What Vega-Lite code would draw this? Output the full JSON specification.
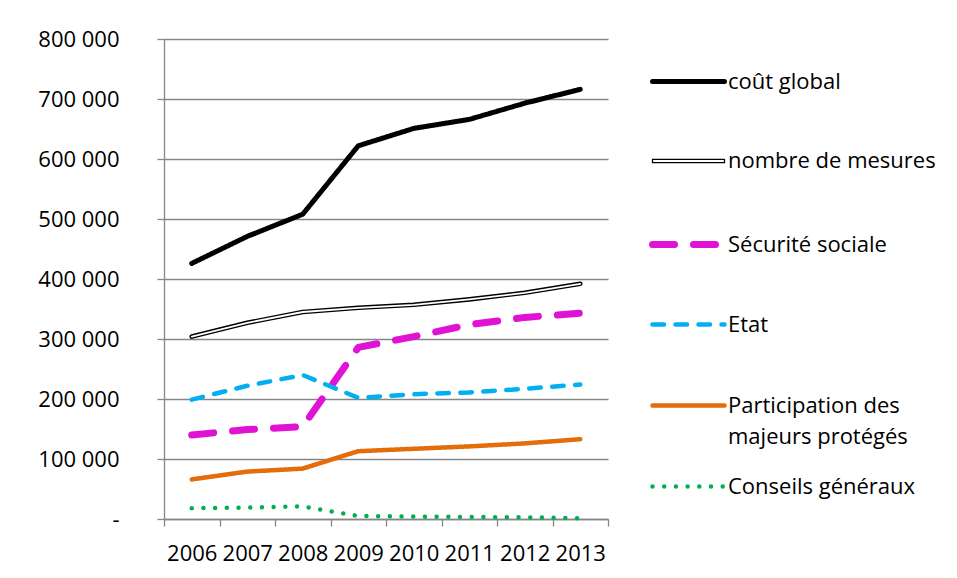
{
  "$schema": "https://vega.github.io/schema/vega-lite/v6.json",
  "width": 444,
  "height": 480,
  "autosize": {"type": "none"},
  "padding": {"left": 164, "top": 39, "right": 349, "bottom": 59},
  "background": "white",
  "config": {"view": {"stroke": null}, "font": "Open Sans"},
  "data": {
    "values": [
      {"year": "2006", "series": "coût global", "value": 426000},
      {"year": "2007", "series": "coût global", "value": 471000},
      {"year": "2008", "series": "coût global", "value": 508000},
      {"year": "2009", "series": "coût global", "value": 622000},
      {"year": "2010", "series": "coût global", "value": 651000},
      {"year": "2011", "series": "coût global", "value": 666000},
      {"year": "2012", "series": "coût global", "value": 693000},
      {"year": "2013", "series": "coût global", "value": 716000},
      {"year": "2006", "series": "nombre de mesures", "value": 304000},
      {"year": "2007", "series": "nombre de mesures", "value": 327000},
      {"year": "2008", "series": "nombre de mesures", "value": 345000},
      {"year": "2009", "series": "nombre de mesures", "value": 352000},
      {"year": "2010", "series": "nombre de mesures", "value": 357000},
      {"year": "2011", "series": "nombre de mesures", "value": 366000},
      {"year": "2012", "series": "nombre de mesures", "value": 377000},
      {"year": "2013", "series": "nombre de mesures", "value": 392000},
      {"year": "2006", "series": "Sécurité sociale", "value": 140000},
      {"year": "2007", "series": "Sécurité sociale", "value": 149000},
      {"year": "2008", "series": "Sécurité sociale", "value": 154000},
      {"year": "2009", "series": "Sécurité sociale", "value": 286000},
      {"year": "2010", "series": "Sécurité sociale", "value": 304000},
      {"year": "2011", "series": "Sécurité sociale", "value": 324000},
      {"year": "2012", "series": "Sécurité sociale", "value": 336000},
      {"year": "2013", "series": "Sécurité sociale", "value": 343000},
      {"year": "2006", "series": "Etat", "value": 199000},
      {"year": "2007", "series": "Etat", "value": 222000},
      {"year": "2008", "series": "Etat", "value": 240000},
      {"year": "2009", "series": "Etat", "value": 202000},
      {"year": "2010", "series": "Etat", "value": 208000},
      {"year": "2011", "series": "Etat", "value": 211000},
      {"year": "2012", "series": "Etat", "value": 217000},
      {"year": "2013", "series": "Etat", "value": 224000},
      {"year": "2006", "series": "Participation des majeurs protégés", "value": 66000},
      {"year": "2007", "series": "Participation des majeurs protégés", "value": 79000},
      {"year": "2008", "series": "Participation des majeurs protégés", "value": 84000},
      {"year": "2009", "series": "Participation des majeurs protégés", "value": 113000},
      {"year": "2010", "series": "Participation des majeurs protégés", "value": 117000},
      {"year": "2011", "series": "Participation des majeurs protégés", "value": 121000},
      {"year": "2012", "series": "Participation des majeurs protégés", "value": 126000},
      {"year": "2013", "series": "Participation des majeurs protégés", "value": 133000},
      {"year": "2006", "series": "Conseils généraux", "value": 18000},
      {"year": "2007", "series": "Conseils généraux", "value": 19000},
      {"year": "2008", "series": "Conseils généraux", "value": 21000},
      {"year": "2009", "series": "Conseils généraux", "value": 5000},
      {"year": "2010", "series": "Conseils généraux", "value": 4000},
      {"year": "2011", "series": "Conseils généraux", "value": 3300},
      {"year": "2012", "series": "Conseils généraux", "value": 2800},
      {"year": "2013", "series": "Conseils généraux", "value": 1200}
    ]
  },
  "encoding": {
    "x": {
      "field": "year",
      "type": "ordinal",
      "bandPosition": 0.5,
      "scale": {"type": "band", "paddingInner": 0, "paddingOuter": 0},
      "axis": {
        "title": null,
        "grid": false,
        "labelAngle": 0,
        "labelOverlap": false,
        "labelFont": "Open Sans",
        "labelFontSize": 22,
        "labelColor": "black",
        "labelPadding": 17,
        "tickBand": "extent",
        "tickSize": 7,
        "tickColor": "#868686",
        "tickWidth": 1.3,
        "domainColor": "#868686",
        "domainWidth": 1.3
      }
    },
    "y": {
      "field": "value",
      "type": "quantitative",
      "scale": {"domain": [0, 800000], "nice": false},
      "axis": {
        "title": null,
        "values": [0, 100000, 200000, 300000, 400000, 500000, 600000, 700000, 800000],
        "grid": true,
        "gridColor": "#868686",
        "gridWidth": 1.3,
        "tickSize": 7,
        "tickColor": "#868686",
        "tickWidth": 1.3,
        "domainColor": "#868686",
        "domainWidth": 1.3,
        "labelFont": "Open Sans",
        "labelFontSize": 22,
        "labelColor": "black",
        "labelPadding": 38,
        "labelExpr": "datum.value === 0 ? '-\u2002\u2002' : format(datum.value / 1000, 'd') + '\u00a0000'"
      }
    }
  },
  "layer": [
    {
      "transform": [{"filter": "datum.series === 'nombre de mesures'"}],
      "mark": {"type": "line", "color": "black", "strokeWidth": 4.6, "strokeCap": "round", "strokeJoin": "round"}
    },
    {
      "mark": {"type": "line", "strokeCap": "round", "strokeJoin": "round"},
      "encoding": {
        "color": {
          "field": "series",
          "type": "nominal",
          "scale": {
            "domain": ["coût global", "nombre de mesures", "Sécurité sociale", "Etat", "Participation des majeurs protégés", "Conseils généraux"],
            "range": ["#000000", "#000000", "#e012d4", "#00b0f0", "#e46c0a", "#00b050"]
          },
          "legend": {
            "title": null,
            "orient": "none",
            "legendX": 485,
            "legendY": 4,
            "padding": 0,
            "gridAlign": "all",
            "symbolType": "stroke",
            "symbolSize": 5184,
            "labelFont": "Open Sans",
            "labelFontSize": 22,
            "labelColor": "black",
            "labelOffset": 0,
            "labelLimit": 400,
            "rowPadding": -1.6,
            "labelExpr": "datum.label === 'Participation des majeurs protégés' ? ['Participation des', 'majeurs protégés'] : datum.label",
            "encode": {
              "symbols": {
                "update": {
                  "strokeCap": {"value": "round"},
                  "shape": {"signal": "datum.value === 'nombre de mesures' ? 'M-1,-0.045H1V0.045H-1Z' : 'stroke'"},
                  "fill": {"signal": "datum.value === 'nombre de mesures' ? 'white' : 'transparent'"}
                }
              },
              "labels": {
                "update": {
                  "lineHeight": {"value": 31}
                }
              }
            }
          }
        },
        "strokeDash": {
          "field": "series",
          "type": "nominal",
          "scale": {
            "domain": ["coût global", "nombre de mesures", "Sécurité sociale", "Etat", "Participation des majeurs protégés", "Conseils généraux"],
            "range": [[1, 0], [1, 0], [22, 19], [11.5, 11.5], [1, 0], [0.001, 11.7]]
          }
        },
        "strokeWidth": {
          "field": "series",
          "type": "nominal",
          "scale": {
            "type": "ordinal",
            "domain": ["coût global", "nombre de mesures", "Sécurité sociale", "Etat", "Participation des majeurs protégés", "Conseils généraux"],
            "range": [5, 1.3, 7, 4.5, 4.5, 4.5]
          }
        }
      }
    },
    {
      "transform": [{"filter": "datum.series === 'nombre de mesures'"}],
      "mark": {"type": "line", "color": "white", "strokeWidth": 1.8, "strokeCap": "round", "strokeJoin": "round"}
    }
  ]
}
